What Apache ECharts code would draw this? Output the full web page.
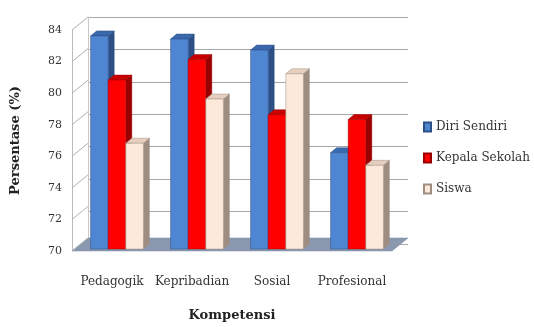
<!DOCTYPE html>
<html>
<head>
<meta charset="utf-8">
<script src="https://cdn.jsdelivr.net/npm/echarts/dist/echarts.min.js"></script>
<style>html,body{margin:0;padding:0;background:#fff}#chart{width:534px;height:327px}</style>
</head>
<body>
<div id="chart"></div>
<script>
var categories = ['Pedagogik', 'Kepribadian', 'Sosial', 'Profesional'];
var diriSendiri = [83.5, 83.3, 82.6, 76.1];
var kepalaSekolah = [80.7, 82.0, 78.5, 78.2];
var siswa = [76.7, 79.5, 81.1, 75.3];
var yTicks = [70, 72, 74, 76, 78, 80, 82, 84];

// depth of the wall / floor and of each bar
var WALL_DX = 16, WALL_DY = -13;
var BAR_DX = 6, BAR_DY = -5, BAR_SHIFT_X = 5, BAR_SHIFT_Y = -2;
var FONT = 'DejaVu Serif';

var palette = [
    {front: '#4f86d2', top: '#3a68ad', side: '#2c4f86'},
    {front: '#ff0000', top: '#c80000', side: '#9a0000'},
    {front: '#fde9da', top: '#e6cfbf', side: '#9e8e82'}
];

function barRenderer(idx) {
    return function (params, api) {
        var cat = api.value(0), v = api.value(1);
        var base = api.coord([cat, 70]);
        var top = api.coord([cat, v]);
        var band = api.size([1, 0])[0];
        var w = band * 0.22;
        var x = base[0] - 1.5 * w + idx * w + BAR_SHIFT_X;
        var yb = base[1] + BAR_SHIFT_Y, yt = top[1] + BAR_SHIFT_Y;
        var c = palette[idx];
        return {
            type: 'group',
            children: [
                {type: 'polygon', shape: {points: [[x + w, yt], [x + w + BAR_DX, yt + BAR_DY], [x + w + BAR_DX, yb + BAR_DY], [x + w, yb]]},
                    style: {fill: c.side, stroke: c.side, lineWidth: 0.5}},
                {type: 'polygon', shape: {points: [[x, yt], [x + BAR_DX, yt + BAR_DY], [x + w + BAR_DX, yt + BAR_DY], [x + w, yt]]},
                    style: {fill: c.top, stroke: c.side, lineWidth: 0.5}},
                {type: 'rect', shape: {x: x, y: yt, width: w, height: yb - yt},
                    style: {fill: c.front, stroke: c.side, lineWidth: 0.5}}
            ]
        };
    };
}

var chart = echarts.init(document.getElementById('chart'));
chart.setOption({
    animation: false,
    legend: {
        data: ['Diri Sendiri', 'Kepala Sekolah', 'Siswa'],
        orient: 'vertical',
        left: 418, top: 116,
        icon: 'rect',
        itemWidth: 7, itemHeight: 9, itemGap: 19,
        textStyle: {fontFamily: FONT, fontSize: 12, color: '#333'}
    },
    grid: [
        {left: 72, top: 30, width: 320, height: 227},
        {left: 72 + WALL_DX, top: 30 + WALL_DY, width: 320, height: 227}
    ],
    xAxis: [
        {
            type: 'category', gridIndex: 0, data: categories,
            axisLine: {show: false}, axisTick: {show: false},
            axisLabel: {interval: 0, fontFamily: FONT, fontSize: 12, color: '#333', margin: 25},
            name: 'Kompetensi', nameLocation: 'middle', nameGap: 58,
            nameTextStyle: {fontFamily: FONT, fontSize: 13, fontWeight: 'bold', color: '#222'}
        },
        {type: 'category', gridIndex: 1, data: categories, show: false}
    ],
    yAxis: [
        {
            type: 'value', gridIndex: 0, min: 70, max: 84, interval: 2,
            axisLine: {show: true, lineStyle: {color: '#bbb'}},
            axisTick: {show: false},
            splitLine: {show: false},
            axisLabel: {fontFamily: FONT, fontSize: 11, color: '#333', margin: 10},
            name: 'Persentase (%)', nameLocation: 'middle', nameGap: 50, nameRotate: 90,
            nameTextStyle: {fontFamily: FONT, fontSize: 13, fontWeight: 'bold', color: '#222'}
        },
        {
            type: 'value', gridIndex: 1, min: 70, max: 84, interval: 2,
            axisLine: {show: true, lineStyle: {color: '#c8c8c8'}},
            axisTick: {show: false}, axisLabel: {show: false},
            splitLine: {show: true, lineStyle: {color: '#a8a8a8', width: 1.2}}
        }
    ],
    series: [
        {
            // floor
            type: 'custom', xAxisIndex: 0, yAxisIndex: 0, silent: true, z: 1,
            data: [[0, 70]],
            renderItem: function (params, api) {
                var cs = params.coordSys;
                var yb = cs.y + cs.height;
                return {
                    type: 'polygon',
                    shape: {points: [[cs.x, yb], [cs.x + cs.width, yb], [cs.x + cs.width + WALL_DX, yb + WALL_DY], [cs.x + WALL_DX, yb + WALL_DY]]},
                    style: {fill: '#8a99b0', stroke: '#7d8ca4', lineWidth: 0.5}
                };
            }
        },
        {
            // left wall lines
            type: 'custom', xAxisIndex: 0, yAxisIndex: 0, silent: true, z: 1,
            data: yTicks.map(function (t) { return [0, t]; }),
            renderItem: function (params, api) {
                var cs = params.coordSys;
                var y = api.coord([0, api.value(1)])[1];
                return {
                    type: 'line',
                    shape: {x1: cs.x, y1: y, x2: cs.x + WALL_DX, y2: y + WALL_DY},
                    style: {stroke: '#b0b0b0', lineWidth: 1}
                };
            }
        },
        {name: 'Diri Sendiri', type: 'custom', z: 3, renderItem: barRenderer(0),
            itemStyle: {color: palette[0].front, borderColor: palette[0].side, borderWidth: 1},
            data: diriSendiri.map(function (v, i) { return [i, v]; })},
        {name: 'Kepala Sekolah', type: 'custom', z: 3, renderItem: barRenderer(1),
            itemStyle: {color: palette[1].front, borderColor: palette[1].side, borderWidth: 1},
            data: kepalaSekolah.map(function (v, i) { return [i, v]; })},
        {name: 'Siswa', type: 'custom', z: 3, renderItem: barRenderer(2),
            itemStyle: {color: palette[2].front, borderColor: palette[2].side, borderWidth: 1},
            data: siswa.map(function (v, i) { return [i, v]; })}
    ]
});
</script>
</body>
</html>
